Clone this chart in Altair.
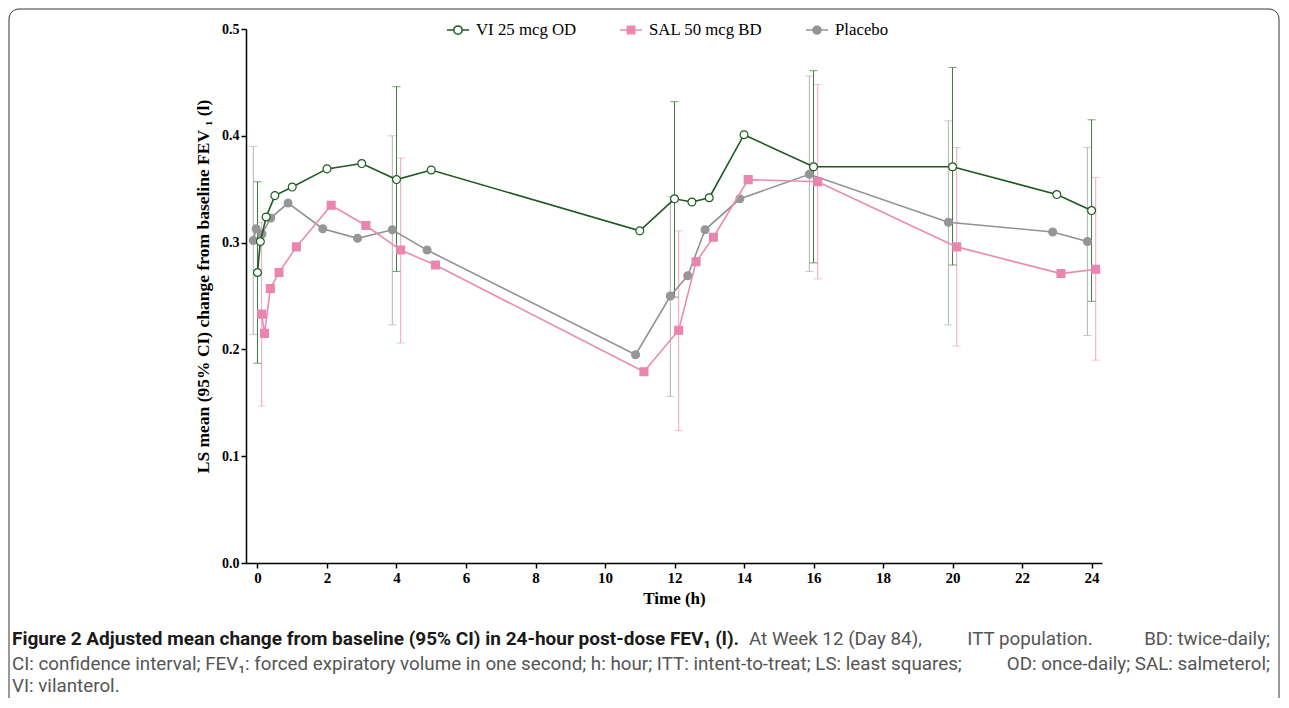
import altair as alt
import pandas as pd

# ---------------- data ----------------
series_names = ["VI 25 mcg OD", "SAL 50 mcg BD", "Placebo"]

times = [0, 0.083, 0.25, 0.5, 1, 2, 3, 4, 5, 11, 12, 12.5, 13, 14, 16, 20, 23, 24]
vi_mean = [0.272, 0.301, 0.324, 0.344, 0.352, 0.369, 0.374, 0.359, 0.368,
           0.311, 0.341, 0.338, 0.342, 0.401, 0.371, 0.371, 0.345, 0.330]
sal_mean = [0.233, 0.215, 0.257, 0.272, 0.296, 0.335, 0.316, 0.293, 0.279,
            0.179, 0.218, 0.282, 0.305, 0.359, 0.357, 0.296, 0.271, 0.275]
pbo_mean = [0.302, 0.313, 0.308, 0.323, 0.337, 0.313, 0.304, 0.312, 0.293,
            0.195, 0.250, 0.269, 0.312, 0.341, 0.364, 0.319, 0.310, 0.301]

ci_times = [0, 4, 12, 16, 20, 24]
vi_lo = [0.187, 0.273, 0.249, 0.281, 0.279, 0.245]
vi_hi = [0.357, 0.446, 0.432, 0.461, 0.464, 0.415]
sal_lo = [0.147, 0.206, 0.124, 0.266, 0.203, 0.190]
sal_hi = [0.319, 0.379, 0.311, 0.448, 0.389, 0.361]
pbo_lo = [0.214, 0.223, 0.156, 0.273, 0.223, 0.213]
pbo_hi = [0.390, 0.400, 0.343, 0.456, 0.414, 0.389]

y_ticks = [0.0, 0.1, 0.2, 0.3, 0.4, 0.5]
x_ticks = list(range(0, 25, 2))

# ---------------- styling ----------------
dodge = {"VI 25 mcg OD": 0.0, "SAL 50 mcg BD": 0.12, "Placebo": -0.12}
line_col = {"VI 25 mcg OD": "#1c5a1f", "SAL 50 mcg BD": "#ec8ab2", "Placebo": "#929292"}
err_col = {"VI 25 mcg OD": "#3d7a3f", "SAL 50 mcg BD": "#f2a3c3", "Placebo": "#b3b3b3"}
fill_col = {"VI 25 mcg OD": "#ffffff", "SAL 50 mcg BD": "#e985ae", "Placebo": "#969696"}
shape_of = {"VI 25 mcg OD": "circle", "SAL 50 mcg BD": "square", "Placebo": "circle"}

means = {"VI 25 mcg OD": vi_mean, "SAL 50 mcg BD": sal_mean, "Placebo": pbo_mean}
los = {"VI 25 mcg OD": vi_lo, "SAL 50 mcg BD": sal_lo, "Placebo": pbo_lo}
his = {"VI 25 mcg OD": vi_hi, "SAL 50 mcg BD": sal_hi, "Placebo": pbo_hi}

rows = []
for s in series_names:
    for t, m in zip(times, means[s]):
        rows.append({"series": s, "time": t, "x": t + dodge[s], "mean": m})
df = pd.DataFrame(rows)

erows = []
for s in series_names:
    for t, lo, hi in zip(ci_times, los[s], his[s]):
        erows.append({"series": s, "time": t, "x": t + dodge[s], "lo": lo, "hi": hi})
edf = pd.DataFrame(erows)

serif = "Liberation Serif"
xscale = alt.Scale(domain=[-0.33, 24.3], nice=False, zero=False)
yscale = alt.Scale(domain=[0, 0.5], nice=False)

xaxis = alt.Axis(values=x_ticks, format="d", title="Time  (h)", grid=False,
                 labelFont=serif, labelFontWeight="bold", labelFontSize=15, labelColor="black",
                 titleFont=serif, titleFontWeight="bold", titleFontSize=17, titleColor="black",
                 tickSize=5, tickWidth=1.5, tickColor="black", domainColor="black", domainWidth=1.5,
                 labelPadding=2, titlePadding=5)
yaxis = alt.Axis(values=y_ticks, format=".1f",
                 title="LS mean (95% CI) change from baseline FEV \u2081 (l)", grid=False,
                 labelFont=serif, labelFontWeight="bold", labelFontSize=14, labelColor="black",
                 titleFont=serif, titleFontWeight="bold", titleFontSize=17.5, titleColor="black",
                 tickSize=5, tickWidth=1.5, tickColor="black", domainColor="black", domainWidth=1.5,
                 labelPadding=2, titlePadding=9, titleY=257)

X = alt.X("x:Q", scale=xscale, axis=xaxis)
def Y(f):
    return alt.Y(f, scale=yscale, axis=yaxis)

layers = []
order = ["Placebo", "SAL 50 mcg BD", "VI 25 mcg OD"]
for s in order:
    e = alt.Chart(edf[edf.series == s])
    layers.append(e.mark_rule(color=err_col[s], strokeWidth=1).encode(x=X, y=Y("lo:Q"), y2="hi:Q"))
    layers.append(e.mark_tick(color=err_col[s], orient="horizontal", size=8, thickness=1).encode(
        x=X, y=Y("lo:Q")))
    layers.append(e.mark_tick(color=err_col[s], orient="horizontal", size=8, thickness=1).encode(
        x=X, y=Y("hi:Q")))
for s in order:
    c = alt.Chart(df[df.series == s])
    layers.append(c.mark_line(color=line_col[s], strokeWidth=1.6).encode(
        x=X, y=Y("mean:Q"), order="x:Q"))
    layers.append(c.mark_point(shape=shape_of[s], size=62, filled=False, fill=fill_col[s], fillOpacity=1,
                               stroke=line_col[s] if s == "VI 25 mcg OD" else fill_col[s],
                               strokeWidth=1.2, opacity=1).encode(x=X, y=Y("mean:Q")))

# legend layer (symbols = line + marker)
p_circle_open = "M-1,0L-0.38,0M0.38,0L1,0M0.38,0A0.38,0.38,0,1,1,-0.38,0A0.38,0.38,0,1,1,0.38,0Z"
p_square = "M-1,0L-0.34,0M0.34,0L1,0M-0.34,-0.34L0.34,-0.34L0.34,0.34L-0.34,0.34Z"
p_circle = "M-1,0L-0.36,0M0.36,0L1,0M0.36,0A0.36,0.36,0,1,1,-0.36,0A0.36,0.36,0,1,1,0.36,0Z"
legend_shapes = [p_circle_open, p_square, p_circle]

leg = alt.Legend(title=None, orient="none", direction="horizontal", legendX=200, legendY=-11,
                 labelFont=serif, labelFontSize=16.8, labelColor="black", symbolSize=484,
                 symbolStrokeWidth=1.5, symbolOpacity=1, columnPadding=40, labelOffset=6)
legend_layer = alt.Chart(df).mark_point(opacity=0, strokeWidth=1.5, filled=False).encode(
    x=X, y=Y("mean:Q"),
    color=alt.Color("series:N", scale=alt.Scale(domain=series_names,
                    range=[line_col[s] for s in series_names]), legend=leg),
    fill=alt.Fill("series:N", scale=alt.Scale(domain=series_names,
                  range=[fill_col[s] for s in series_names]), legend=leg),
    shape=alt.Shape("series:N", scale=alt.Scale(domain=series_names, range=legend_shapes), legend=leg),
)
layers.append(legend_layer)

# caption (justified lines imitated by left, centred and right-aligned parts)
cap_bold = "Figure 2 Adjusted mean change from baseline (95% CI) in 24-hour post-dose FEV\u2081 (l)."
cap_1a = "At Week 12 (Day 84),"
cap_1m = "ITT population."
cap_1b = "BD: twice-daily;"
cap_2a = ("CI: confidence interval; FEV\u2081: forced expiratory volume in one second; h: hour; "
          "ITT: intent-to-treat; LS: least squares;")
cap_2b = "OD: once-daily; SAL: salmeterol;"
cap_3 = "VI: vilanterol."
one = pd.DataFrame({"k": [0]})
cap_font = "Roboto"
def txt(t, x, y, bold=False, size=18.8, color="#555555", align="left"):
    return alt.Chart(one).mark_text(text=t, align=align, baseline="middle", font=cap_font,
                                    fontSize=size, fontWeight="bold" if bold else "normal",
                                    color=color).encode(x=alt.value(x), y=alt.value(y))
left_x = -234
right_x = 1024
layers.append(txt(cap_bold, left_x, 610, bold=True, size=19, color="#1a1a1a"))
layers.append(txt(cap_1a, 503, 610))
layers.append(txt(cap_1m, 784, 610, align="center"))
layers.append(txt(cap_1b, right_x, 610, align="right"))
layers.append(txt(cap_2a, left_x, 635))
layers.append(txt(cap_2b, right_x, 635, align="right"))
layers.append(txt(cap_3, left_x, 657))

frame = alt.Chart(one).mark_rect(fillOpacity=0, stroke="#333333", strokeWidth=1, cornerRadius=10).encode(
    x=alt.value(-237), x2=alt.value(1033), y=alt.value(-20), y2=alt.value(720))
layers.append(frame)

chart = alt.layer(*layers).properties(
    width=856, height=534,
    background="white",
    autosize=alt.AutoSizeParams(type="none"),
    padding={"left": 238, "top": 21, "right": 179, "bottom": 135},
).configure_view(stroke="transparent", strokeWidth=0)

chart.save("out.html", embed_options={"renderer": "svg", "actions": False})
